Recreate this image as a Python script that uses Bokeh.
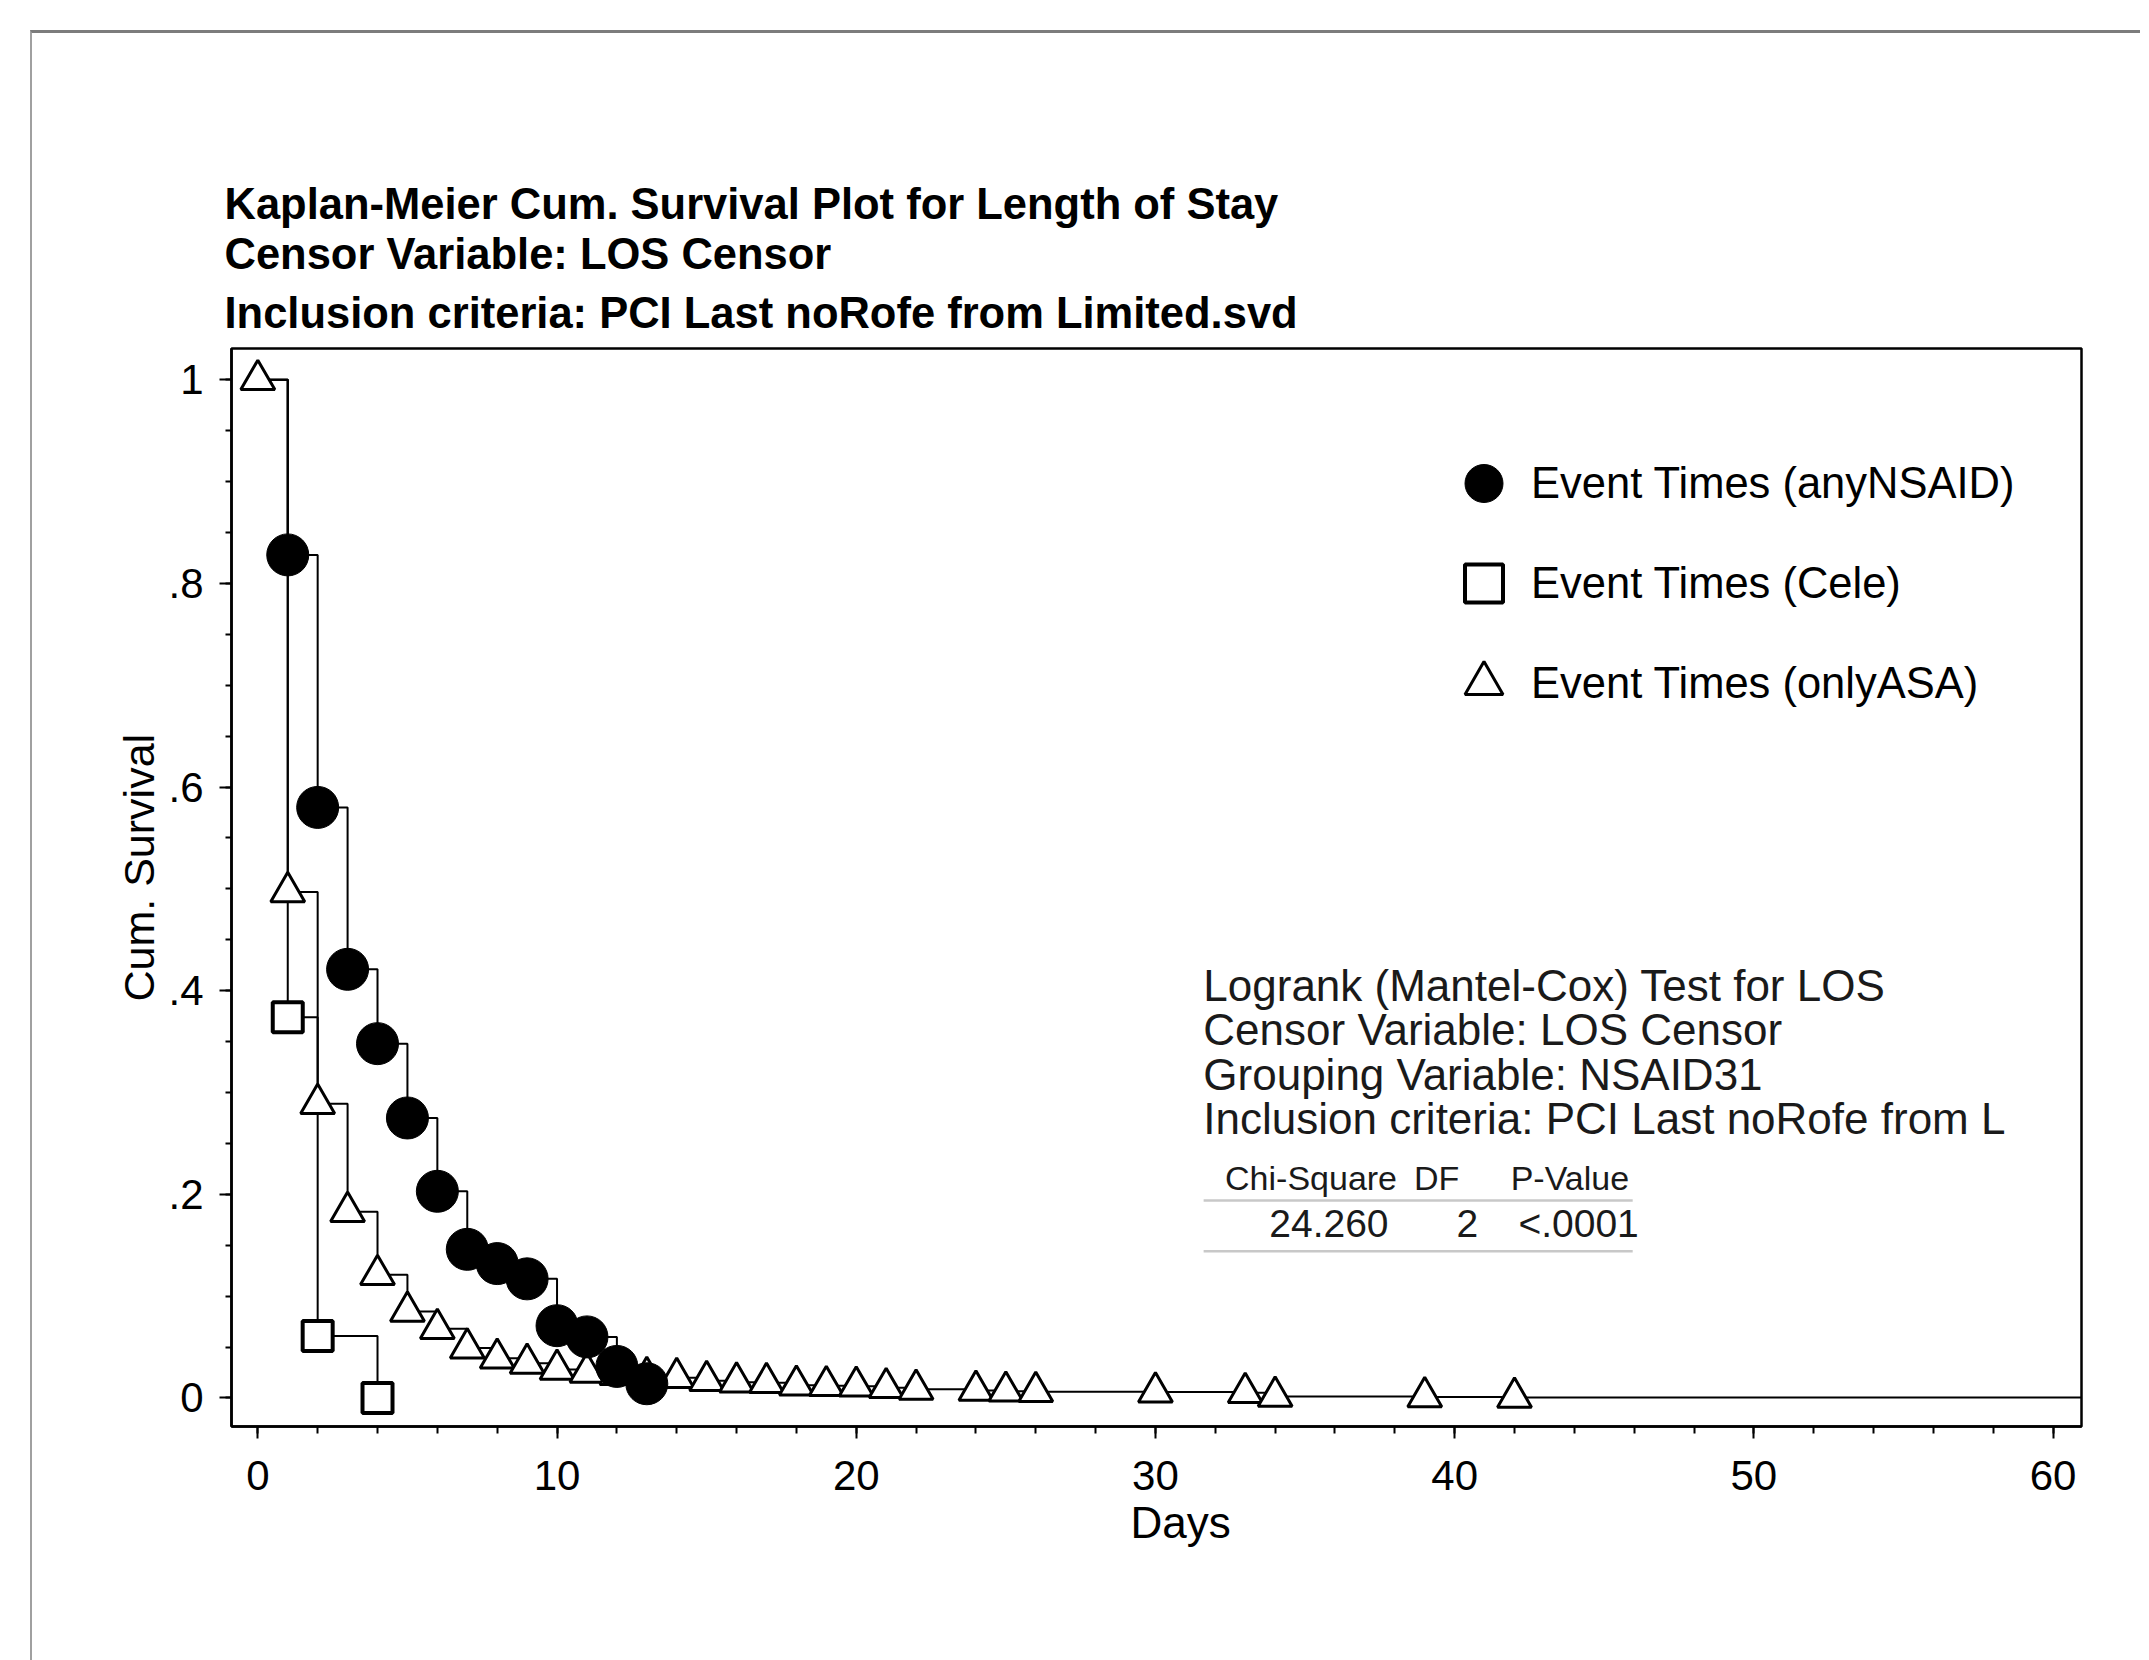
import numpy as np
from bokeh.plotting import figure
from bokeh.models import Range1d, FixedTicker, Title, Label, Legend, LegendItem
from bokeh.embed import file_html
from bokeh.resources import INLINE

# ---------------- data ----------------
start_day = 0
start_surv = 1.0

nsaid_days = [1, 2, 3, 4, 5, 6, 7, 8, 9, 10, 11, 12, 13]
nsaid_surv = [0.828, 0.580, 0.421, 0.348, 0.275, 0.203, 0.146, 0.132, 0.117,
              0.071, 0.060, 0.031, 0.014]

cele_days = [1, 2, 4]
cele_surv = [0.374, 0.061, 0.0]

asa_days = [0, 1, 2, 3, 4, 5, 6, 7, 8, 9, 10, 11, 12, 13, 14, 15, 16, 17, 18,
            19, 20, 21, 22, 24, 25, 26, 30, 33, 34, 39, 42]
asa_surv = [1.0, 0.497, 0.289, 0.183, 0.121, 0.085, 0.068, 0.049, 0.039, 0.034,
            0.028, 0.025, 0.023, 0.021, 0.020, 0.017, 0.0155, 0.015, 0.0125,
            0.012, 0.0115, 0.010, 0.0085, 0.0074, 0.0066, 0.0062, 0.0058,
            0.0052, 0.0015, 0.0010, 0.0006]
asa_last_followup = 62

legend_labels = ["Event Times (anyNSAID)", "Event Times (Cele)", "Event Times (onlyASA)"]

title_lines = [
    "Kaplan-Meier Cum. Survival Plot for Length of Stay",
    "Censor Variable: LOS Censor",
    "Inclusion criteria: PCI Last noRofe from Limited.svd",
]
x_axis_label = "Days"
y_axis_label = "Cum. Survival"

x_ticks = [0, 10, 20, 30, 40, 50, 60]
x_minor_ticks = [0, 2, 4, 6, 8, 10, 12, 14, 16, 18, 20, 22, 24, 26, 28, 30,
                 32, 34, 36, 38, 40, 42, 44, 46, 48, 50, 52, 54, 56, 58, 60]
y_ticks = [0, 0.2, 0.4, 0.6, 0.8, 1]
y_tick_labels = ["0", ".2", ".4", ".6", ".8", "1"]
y_minor_ticks = [0, 0.05, 0.1, 0.15, 0.2, 0.25, 0.3, 0.35, 0.4, 0.45, 0.5,
                 0.55, 0.6, 0.65, 0.7, 0.75, 0.8, 0.85, 0.9, 0.95, 1]

logrank_lines = [
    "Logrank (Mantel-Cox) Test for LOS",
    "Censor Variable: LOS Censor",
    "Grouping Variable: NSAID31",
    "Inclusion criteria: PCI Last noRofe from L",
]
table_header = ["Chi-Square", "DF", "P-Value"]
table_values = ["24.260", "2", "<.0001"]

# ---------------- figure ----------------
FONT = "Liberation Sans"

p = figure(width=2110, height=1630, output_backend="svg", toolbar_location=None,
           title=None,
           x_range=Range1d(-0.88, 60.95), y_range=Range1d(-0.028, 1.0307),
           min_border_left=199, min_border_right=61,
           min_border_top=315, min_border_bottom=237)
p.margin = (30, 0, 0, 30)
p.styles = {"border-top": "3px solid #7c7c7c", "border-left": "2px solid #a0a0a0"}
p.background_fill_color = "white"
p.border_fill_color = "white"
p.grid.visible = False
p.outline_line_color = "black"
p.outline_line_width = 2.5

# titles (added from closest to the frame outward)
for text, standoff in zip(reversed(title_lines), [23, -5, 5]):
    p.add_layout(Title(text=text, align="left", offset=-7, standoff=standoff,
                       text_font=FONT, text_font_size="43.5px",
                       text_font_style="bold", text_color="black"), "above")

# axes
for ax in (p.xaxis[0], p.yaxis[0]):
    ax.axis_line_color = "black"
    ax.axis_line_width = 2.5
    ax.major_tick_line_color = "black"
    ax.major_tick_line_width = 2
    ax.minor_tick_line_color = "black"
    ax.minor_tick_line_width = 2
    ax.major_tick_in = 0
    ax.minor_tick_in = 0
    ax.major_tick_out = 12
    ax.major_label_text_font = FONT
    ax.major_label_text_font_size = "42px"
    ax.major_label_text_color = "black"

p.xaxis.ticker = FixedTicker(ticks=x_ticks, minor_ticks=x_minor_ticks)
p.xaxis.minor_tick_out = 7
p.xaxis.major_label_standoff = 22

p.yaxis.ticker = FixedTicker(ticks=y_ticks, minor_ticks=y_minor_ticks)
p.yaxis.major_label_overrides = dict(zip(y_ticks, y_tick_labels))
p.yaxis.minor_tick_out = 6
p.yaxis.major_label_standoff = 16

# axis titles, placed like the original (slightly off the frame centre)
p.add_layout(Title(text=x_axis_label, align="left", offset=899, standoff=10,
                   vertical_align="top", text_font=FONT, text_font_size="44px",
                   text_font_style="normal", text_color="black"), "below")
p.add_layout(Title(text=y_axis_label, align="left", offset=425, standoff=6,
                   text_font=FONT, text_font_size="43px",
                   text_font_style="normal", text_color="black"), "left")

# step lines
p.step(x=[start_day] + nsaid_days, y=[start_surv] + nsaid_surv, mode="after",
       line_color="black", line_width=2)
p.step(x=[start_day] + cele_days, y=[start_surv] + cele_surv, mode="after",
       line_color="black", line_width=2)
p.step(x=asa_days + [asa_last_followup], y=asa_surv + [asa_surv[-1]], mode="after",
       line_color="black", line_width=2)

# markers
r_asa = p.scatter(asa_days, asa_surv, marker="triangle", size=34,
                  fill_color="white", line_color="black", line_width=3)
r_cele = p.scatter(cele_days, cele_surv, marker="square", size=30,
                   fill_color="white", line_color="black", line_width=4)
r_nsaid = p.scatter(nsaid_days, nsaid_surv, marker="circle", size=42,
                    fill_color="black", line_color="black", line_width=1)

legend = Legend(items=[LegendItem(label=legend_labels[0], renderers=[r_nsaid]),
                       LegendItem(label=legend_labels[1], renderers=[r_cele]),
                       LegendItem(label=legend_labels[2], renderers=[r_asa])],
                location=(1205, 693), glyph_width=95, glyph_height=100,
                spacing=0, padding=0, margin=0, label_standoff=0,
                label_text_font=FONT, label_text_font_size="43.5px",
                label_text_color="black", border_line_color=None,
                background_fill_alpha=0)
p.add_layout(legend)

# logrank text block
logrank_x = 31.6
logrank_y = [0.405, 0.362, 0.318, 0.274]
for text, yy in zip(logrank_lines, logrank_y):
    p.add_layout(Label(x=logrank_x, y=yy, text=text, text_font=FONT,
                       text_font_size="44px", text_color="#1a1a1a",
                       text_baseline="middle", text_align="left"))

header_x = [35.2, 39.4, 43.85]
header_y = 0.2165
for text, xx in zip(table_header, header_x):
    p.add_layout(Label(x=xx, y=header_y, text=text, text_font=FONT,
                       text_font_size="34px", text_color="#1a1a1a",
                       text_baseline="middle", text_align="center"))

values_x = [37.79, 40.06, 42.13]
values_align = ["right", "left", "left"]
values_y = 0.1714
for text, xx, al in zip(table_values, values_x, values_align):
    p.add_layout(Label(x=xx, y=values_y, text=text, text_font=FONT,
                       text_font_size="39px", text_color="#1a1a1a",
                       text_baseline="middle", text_align=al))

rule_x0, rule_x1 = 31.61, 45.95
rule_y = [0.194, 0.144]
p.segment(x0=[rule_x0, rule_x0], y0=rule_y, x1=[rule_x1, rule_x1], y1=rule_y,
          line_color="#c8c8c8", line_width=2.5)

open("out.html", "w").write(file_html(p, INLINE))
